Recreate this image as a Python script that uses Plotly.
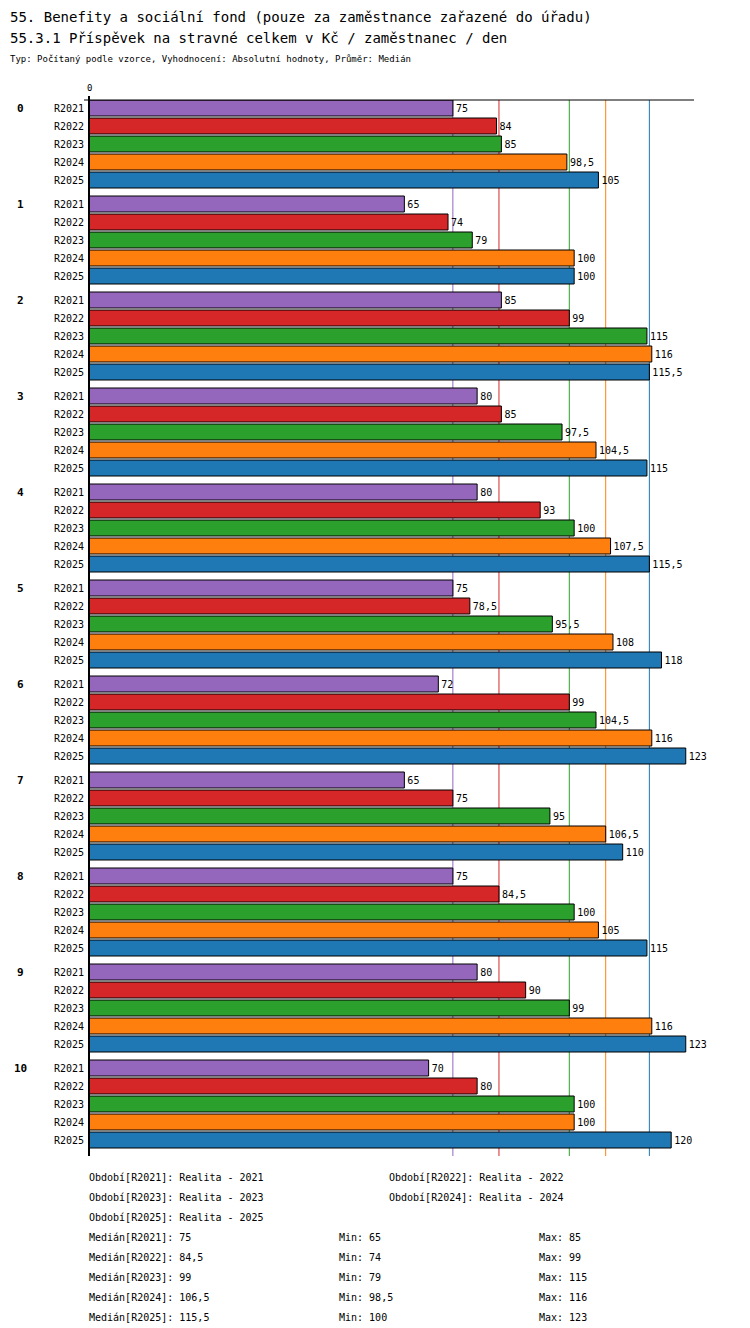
import plotly.graph_objects as go

groups = [str(i) for i in range(11)]
periods = ["R2021", "R2022", "R2023", "R2024", "R2025"]
colors = ["#9467bd", "#d62728", "#2ca02c", "#ff7f0e", "#1f77b4"]

values = {
    "R2021": [75, 65, 85, 80, 80, 75, 72, 65, 75, 80, 70],
    "R2022": [84, 74, 99, 85, 93, 78.5, 99, 75, 84.5, 90, 80],
    "R2023": [85, 79, 115, 97.5, 100, 95.5, 104.5, 95, 100, 99, 100],
    "R2024": [98.5, 100, 116, 104.5, 107.5, 108, 116, 106.5, 105, 116, 100],
    "R2025": [105, 100, 115.5, 115, 115.5, 118, 123, 110, 115, 123, 120],
}
medians = [75, 84.5, 99, 106.5, 115.5]
mins = [65, 74, 79, 98.5, 100]
maxs = [85, 99, 115, 116, 123]

FONT = "DejaVu Sans Mono"
L, R, T, B = 81, 686, 92, 1148


def px(x):
    return (x - L) / (R - L)


def py(y):
    return (B - y) / (B - T)


def fmt(v):
    return ("%g" % v).replace(".", ",")


fig = go.Figure()
ypos_all, ytext_all = [], []
for r, p in enumerate(periods):
    ys = [100 + g * 96 + r * 18 for g in range(len(groups))]
    ypos_all += ys
    ytext_all += [p] * len(ys)
    fig.add_trace(go.Bar(
        x=values[p], y=ys, orientation="h", width=16,
        marker=dict(color=colors[r], line=dict(color="black", width=1)),
        text=[fmt(v) for v in values[p]], textposition="outside",
        textfont=dict(family=FONT, size=10, color="black"),
        cliponaxis=False, showlegend=False, hoverinfo="x",
    ))

for m, c in zip(medians, colors):
    fig.add_shape(type="line", xref="x", yref="paper", x0=m, x1=m, y0=0, y1=1,
                  line=dict(color=c, width=1), layer="below")
fig.add_shape(type="line", xref="paper", yref="paper", x0=px(76), x1=1, y0=1, y1=1,
              line=dict(color="black", width=1))
fig.add_shape(type="line", xref="paper", yref="paper", x0=0, x1=0, y0=0, y1=py(88),
              line=dict(color="black", width=2))

ann = []
for g in groups:
    ann.append(dict(x=px(12), y=100 + int(g) * 96, xref="paper", yref="y", text="<b>%s</b>" % g,
                    showarrow=False, xanchor="center", font=dict(family=FONT, size=11)))
ann.append(dict(x=0, y=py(80), xref="x", yref="paper", text="0", showarrow=False,
                yanchor="middle", font=dict(family=FONT, size=9)))


def txt(x, y, s, size=10):
    ann.append(dict(x=px(x), y=py(y), xref="paper", yref="paper", text=s,
                    showarrow=False, xanchor="left", yanchor="middle",
                    font=dict(family=FONT, size=size, color="black")))


txt(0, 9, "55. Benefity a sociální fond (pouze za zaměstnance zařazené do úřadu)", 14)
txt(0, 30, "55.3.1 Příspěvek na stravné celkem v Kč / zaměstnanec / den", 14)
txt(0, 51, "Typ: Počítaný podle vzorce, Vyhodnocení: Absolutní hodnoty, Průměr: Medián", 9)

obd = [(79, 1169, 0), (379, 1169, 1), (79, 1189, 2), (379, 1189, 3), (79, 1209, 4)]
for x, y, i in obd:
    txt(x, y, "Období[%s]: Realita - %s" % (periods[i], periods[i][1:]))
for i, p in enumerate(periods):
    y = 1229 + i * 20
    txt(79, y, "Medián[%s]: %s" % (p, fmt(medians[i])))
    txt(329, y, "Min: %s" % fmt(mins[i]))
    txt(529, y, "Max: %s" % fmt(maxs[i]))

fig.update_layout(
    width=750, height=1328, margin=dict(l=L, r=750 - R, t=T, b=1328 - B),
    plot_bgcolor="white", paper_bgcolor="white", barmode="overlay",
    xaxis=dict(range=[0, 124.7], showgrid=False, showticklabels=False, zeroline=False,
               fixedrange=True, automargin=False),
    yaxis=dict(range=[B, T], tickvals=ypos_all, ticktext=ytext_all, showgrid=False,
               zeroline=False, ticks="", tickfont=dict(family=FONT, size=10, color="black"),
               ticklabelstandoff=4, automargin=False),
    annotations=ann, font=dict(family=FONT, color="black"),
)

fig.write_html("out.html")
